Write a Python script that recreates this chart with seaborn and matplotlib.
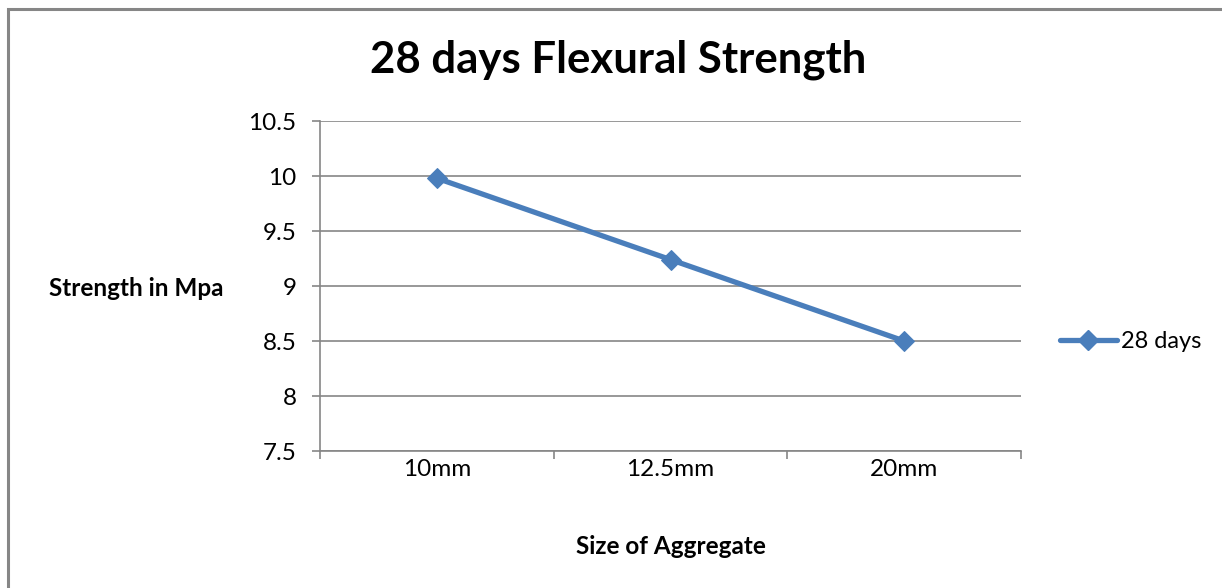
import matplotlib
matplotlib.use("Agg")
import matplotlib.pyplot as plt
from matplotlib.lines import Line2D
from matplotlib.patches import Rectangle
import seaborn as sns
import pandas as pd

# Flexural strength at 28 days by aggregate size
sizes = ["10mm", "12.5mm", "20mm"]
strength = [9.98, 9.24, 8.50]
series_name = "28 days"
y_ticks = [7.5, 8, 8.5, 9, 9.5, 10, 10.5]

sns.set_theme(style="white")
plt.rcParams["font.family"] = ["Lato", "DejaVu Sans"]
plt.rcParams["text.color"] = "black"
plt.rcParams["xtick.labelcolor"] = "black"
plt.rcParams["ytick.labelcolor"] = "black"

blue = "#4A7EBB"
grid_gray = "#868686"

df = pd.DataFrame({"size": sizes, "strength": strength})
df["pos"] = range(len(sizes))

fig = plt.figure(figsize=(12.22, 5.88), dpi=100)
ax = fig.add_axes([320 / 1222, 1 - 451 / 588, (1021 - 320) / 1222, (451 - 121) / 588])

sns.lineplot(data=df, x="pos", y="strength", ax=ax, color=blue, linewidth=3.8,
             marker="D", markersize=10.5, markeredgecolor=blue, markerfacecolor=blue,
             legend=False)

ax.set_xlim(-0.5, len(sizes) - 0.5)
ax.set_ylim(7.5, 10.5)
ax.set_yticks(y_ticks)
ax.set_yticklabels([f"{t:g}" for t in y_ticks], fontsize=17.5)
ax.set_xticks(range(len(sizes)))
ax.set_xticklabels(sizes, fontsize=17.5)
ax.set_xticks([i - 0.5 for i in range(len(sizes) + 1)], minor=True)
ax.tick_params(axis="x", which="major", length=0, pad=6)
ax.tick_params(axis="x", which="minor", length=6, width=1.2, color=grid_gray, direction="out", bottom=True)
ax.tick_params(axis="y", which="major", length=6, width=1.2, color=grid_gray, direction="out", left=True, pad=11)

ax.yaxis.grid(True, color=grid_gray, linewidth=1.2)
ax.set_axisbelow(True)
for side in ["top", "right"]:
    ax.spines[side].set_visible(False)
for side in ["left", "bottom"]:
    ax.spines[side].set_color(grid_gray)
    ax.spines[side].set_linewidth(1.2)

ax.set_xlabel("")
ax.set_ylabel("")

fig.text(618 / 1222, 1 - 60 / 588, "28 days Flexural Strength", ha="center", va="center",
         fontsize=31.5, fontweight="bold")
fig.text(136 / 1222, 1 - 288 / 588, "Strength in Mpa", ha="center", va="center",
         fontsize=17.5, fontweight="bold")
fig.text(671 / 1222, 1 - 547 / 588, "Size of Aggregate", ha="center", va="center",
         fontsize=17.5, fontweight="bold")

handle = Line2D([], [], color=blue, linewidth=3.8, marker="D", markersize=10.5,
                markeredgecolor=blue, markerfacecolor=blue)
fig.legend([handle], [series_name], loc="center left",
           bbox_to_anchor=(1060 / 1222, 1 - 342 / 588), frameon=False,
           fontsize=17, handlelength=2.4, handletextpad=0.2, borderaxespad=0, borderpad=0)

# chart area border
fig.patches.append(Rectangle((8 / 1222, -0.05), 1.2, 1 - 9 / 588 + 0.05, transform=fig.transFigure,
                             fill=False, edgecolor=grid_gray, linewidth=2.2, figure=fig))

fig.savefig("out.png", dpi=100)
